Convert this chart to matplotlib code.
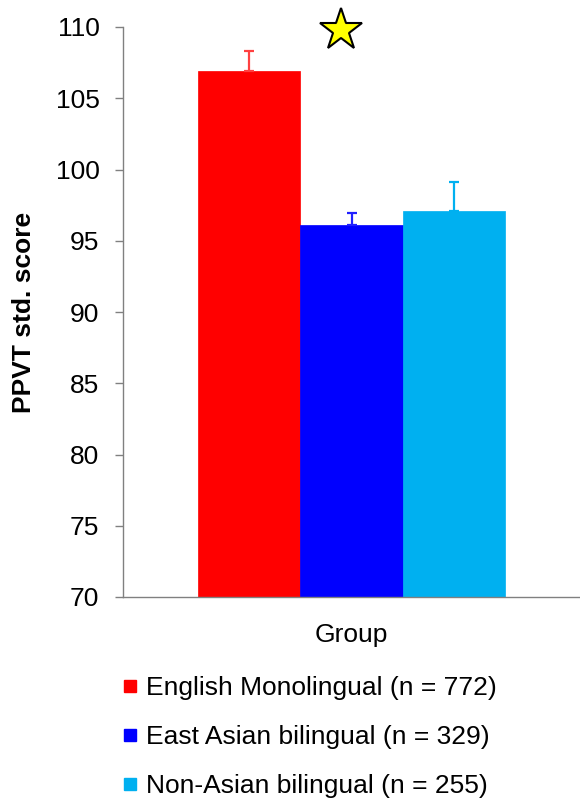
import matplotlib
matplotlib.use("Agg")
import matplotlib.pyplot as plt
from matplotlib.lines import Line2D

plt.rcParams['font.family'] = ['Liberation Sans', 'DejaVu Sans']

groups = ["English Monolingual (n = 772)",
          "East Asian bilingual (n = 329)",
          "Non-Asian bilingual (n = 255)"]
means = [106.9, 96.1, 97.1]
errors = [1.4, 0.85, 2.0]
colors = ["#FF0000", "#0000FF", "#00B0F0"]
err_colors = ["#FF4040", "#2020FF", "#00B0F0"]
yticks = [70, 75, 80, 85, 90, 95, 100, 105, 110]
star_pos = (0.9, 109.8)

W, H = 580, 799
fig = plt.figure(figsize=(W / 100, H / 100), dpi=100)
ax = fig.add_axes([123 / W, 1 - 597 / H, (580 - 123) / W, (597 - 27) / H])

xs = list(range(len(means)))
for x, m, e, c, ec in zip(xs, means, errors, colors, err_colors):
    ax.bar(x, m - 70, bottom=70, width=1.0, color=c, edgecolor=c, linewidth=0.5, zorder=2)
    ax.errorbar(x, m, yerr=[[0], [e]], fmt='none', ecolor=ec, elinewidth=1.6,
                capsize=3.8, capthick=1.6, zorder=3)

ax.plot([star_pos[0]], [star_pos[1]], marker='*', markersize=32, markerfacecolor='#FFFF00',
        markeredgecolor='black', markeredgewidth=1.5, clip_on=False, zorder=5, linestyle='none')

ax.set_ylim(70, 110)
ax.set_xlim(-1.23, 3.23)
ax.set_yticks(yticks)
ax.set_yticklabels([str(t) for t in yticks], fontsize=19)
ax.set_xticks([])
ax.tick_params(axis='y', direction='out', length=6, width=1, color='#808080', pad=11)
for s in ['top', 'right']:
    ax.spines[s].set_visible(False)
for s in ['left', 'bottom']:
    ax.spines[s].set_color('#808080')
    ax.spines[s].set_linewidth(1)

ax.set_ylabel("PPVT std. score", fontsize=19, fontweight='bold', labelpad=14)
ax.set_xlabel("Group", fontsize=19, labelpad=19)

handles = [Line2D([], [], marker='s', linestyle='none', markersize=8,
                  markerfacecolor=c, markeredgecolor=c) for c in colors]
fig.legend(handles, groups, loc='upper left', bbox_to_anchor=(122 / W, 1 - 676 / H),
           bbox_transform=fig.transFigure, frameon=False, fontsize=19,
           handlelength=0.6, handletextpad=0.3, labelspacing=0.95,
           borderpad=0, borderaxespad=0)

fig.savefig("out.png", dpi=100)
